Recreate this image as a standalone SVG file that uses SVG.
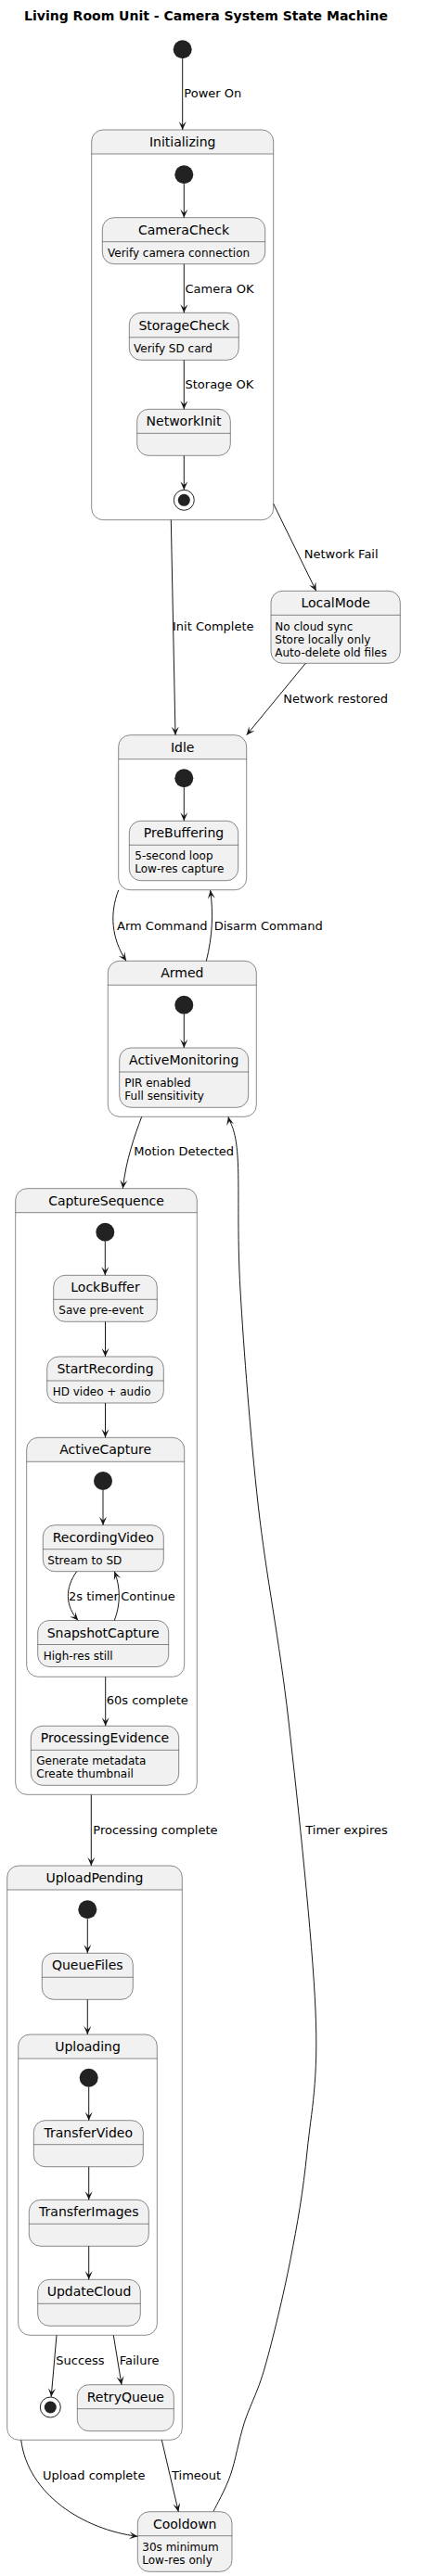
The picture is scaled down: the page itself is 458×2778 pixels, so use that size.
<svg xmlns="http://www.w3.org/2000/svg" width="458" height="2778" viewBox="0 0 458 2778">
<style>
.sf{fill:#F1F1F1;stroke:#181818;stroke-width:0.5}
.cb{fill:none;stroke:#181818;stroke-width:0.5}
.bg{fill:#FFFFFF;stroke:none}
.hd{fill:#F1F1F1;stroke:none}
.sep{stroke:#181818;stroke-width:0.5}
.nm{font-family:"DejaVu Sans",sans-serif;font-size:14px;fill:#000;text-anchor:middle}
.ds{font-family:"DejaVu Sans",sans-serif;font-size:12px;fill:#000}
.lb{font-family:"DejaVu Sans",sans-serif;font-size:13px;fill:#000}
.ar{fill:none;stroke:#181818;stroke-width:1;marker-end:url(#ah)}
.ini{fill:#222222}
.fo{fill:none;stroke:#222222;stroke-width:1}
.title{font-family:"DejaVu Sans",sans-serif;font-size:14px;font-weight:bold;fill:#000;text-anchor:middle}
</style>
<defs>
<marker id="ah" markerWidth="12" markerHeight="12" viewBox="-10 -6 12 12" refX="0" refY="0" orient="auto" markerUnits="userSpaceOnUse">
<path d="M0,0 L-9,-4 L-5,0 L-9,4 Z" fill="#181818"/>
</marker>
</defs>
<rect width="458" height="2778" fill="#FFFFFF"/>
<text class="title" x="222" y="22">Living Room Unit - Camera System State Machine</text>

<!-- composite states -->
<g id="Initializing">
<rect class="bg" x="98.7" y="140" width="196" height="420.7" rx="12.5"/>
<path class="hd" d="M98.7,166 V152.5 A12.5,12.5 0 0 1 111.2,140 H282.2 A12.5,12.5 0 0 1 294.7,152.5 V166 Z"/>
<rect class="cb" x="98.7" y="140" width="196" height="420.7" rx="12.5"/>
<line class="sep" x1="98.7" y1="166" x2="294.7" y2="166"/>
<text class="nm" x="196.7" y="158">Initializing</text>
<circle class="ini" cx="198.3" cy="188.3" r="10"/>
<circle class="fo" cx="198.3" cy="539.3" r="11"/>
<circle class="ini" cx="198.3" cy="539.3" r="6.5"/>
</g>
<g id="Idle">
<rect class="bg" x="127.7" y="792.7" width="138" height="167" rx="12.5"/>
<path class="hd" d="M127.7,818.7 V805.2 A12.5,12.5 0 0 1 140.2,792.7 H253.2 A12.5,12.5 0 0 1 265.7,805.2 V818.7 Z"/>
<rect class="cb" x="127.7" y="792.7" width="138" height="167" rx="12.5"/>
<line class="sep" x1="127.7" y1="818.7" x2="265.7" y2="818.7"/>
<text class="nm" x="196.7" y="810.7">Idle</text>
<circle class="ini" cx="198.3" cy="839.3" r="10"/>
</g>
<g id="Armed">
<rect class="bg" x="116.3" y="1036.3" width="160" height="168" rx="12.5"/>
<path class="hd" d="M116.3,1062.3 V1048.8 A12.5,12.5 0 0 1 128.8,1036.3 H263.8 A12.5,12.5 0 0 1 276.3,1048.8 V1062.3 Z"/>
<rect class="cb" x="116.3" y="1036.3" width="160" height="168" rx="12.5"/>
<line class="sep" x1="116.3" y1="1062.3" x2="276.3" y2="1062.3"/>
<text class="nm" x="196.3" y="1054.3">Armed</text>
<circle class="ini" cx="198.3" cy="1083.7" r="10"/>
</g>
<g id="CaptureSequence">
<rect class="bg" x="16.7" y="1281.7" width="195.6" height="653.6" rx="12.5"/>
<path class="hd" d="M16.7,1307.7 V1294.2 A12.5,12.5 0 0 1 29.2,1281.7 H199.8 A12.5,12.5 0 0 1 212.3,1294.2 V1307.7 Z"/>
<rect class="cb" x="16.7" y="1281.7" width="195.6" height="653.6" rx="12.5"/>
<line class="sep" x1="16.7" y1="1307.7" x2="212.3" y2="1307.7"/>
<text class="nm" x="114.5" y="1299.7">CaptureSequence</text>
<circle class="ini" cx="113.3" cy="1328.7" r="10"/>
</g>
<g id="ActiveCapture">
<rect class="bg" x="28.7" y="1550.3" width="170" height="258" rx="12.5"/>
<path class="hd" d="M28.7,1576.3 V1562.8 A12.5,12.5 0 0 1 41.2,1550.3 H186.2 A12.5,12.5 0 0 1 198.7,1562.8 V1576.3 Z"/>
<rect class="cb" x="28.7" y="1550.3" width="170" height="258" rx="12.5"/>
<line class="sep" x1="28.7" y1="1576.3" x2="198.7" y2="1576.3"/>
<text class="nm" x="113.7" y="1568.3">ActiveCapture</text>
<circle class="ini" cx="111" cy="1597" r="10"/>
</g>
<g id="UploadPending">
<rect class="bg" x="7.7" y="2012" width="188.6" height="619.3" rx="12.5"/>
<path class="hd" d="M7.7,2038 V2024.5 A12.5,12.5 0 0 1 20.2,2012 H183.8 A12.5,12.5 0 0 1 196.3,2024.5 V2038 Z"/>
<rect class="cb" x="7.7" y="2012" width="188.6" height="619.3" rx="12.5"/>
<line class="sep" x1="7.7" y1="2038" x2="196.3" y2="2038"/>
<text class="nm" x="102" y="2030">UploadPending</text>
<circle class="ini" cx="94.3" cy="2059.3" r="10"/>
<circle class="fo" cx="54.3" cy="2596" r="11"/>
<circle class="ini" cx="54.3" cy="2596" r="6.5"/>
</g>
<g id="Uploading">
<rect class="bg" x="19.7" y="2194" width="149.6" height="324.3" rx="12.5"/>
<path class="hd" d="M19.7,2220 V2206.5 A12.5,12.5 0 0 1 32.2,2194 H156.8 A12.5,12.5 0 0 1 169.3,2206.5 V2220 Z"/>
<rect class="cb" x="19.7" y="2194" width="149.6" height="324.3" rx="12.5"/>
<line class="sep" x1="19.7" y1="2220" x2="169.3" y2="2220"/>
<text class="nm" x="94.5" y="2212">Uploading</text>
<circle class="ini" cx="95.7" cy="2240.7" r="10"/>
</g>

<!-- start -->
<g id="Start"><circle class="ini" cx="196.7" cy="53.3" r="10"/></g>

<!-- simple states -->
<g id="CameraCheck">
<rect class="sf" x="110.3" y="234.7" width="175.4" height="50" rx="12.5"/>
<line class="sep" x1="110.3" y1="260.7" x2="285.7" y2="260.7"/>
<text class="nm" x="198" y="252.7">CameraCheck</text>
<text class="ds" x="116" y="276.7">Verify camera connection</text>
</g>
<g id="StorageCheck">
<rect class="sf" x="139.3" y="337.3" width="118" height="51" rx="12.5"/>
<line class="sep" x1="139.3" y1="363.8" x2="257.3" y2="363.8"/>
<text class="nm" x="198.3" y="355.5">StorageCheck</text>
<text class="ds" x="144" y="379.7">Verify SD card</text>
</g>
<g id="NetworkInit">
<rect class="sf" x="147.7" y="441.3" width="100.6" height="50" rx="12.5"/>
<line class="sep" x1="147.7" y1="467.3" x2="248.3" y2="467.3"/>
<text class="nm" x="198" y="459.3">NetworkInit</text>
</g>
<g id="LocalMode">
<rect class="sf" x="292" y="637.3" width="139.3" height="78" rx="12.5"/>
<line class="sep" x1="292" y1="663.3" x2="431.3" y2="663.3"/>
<text class="nm" x="361.7" y="655.3">LocalMode</text>
<text class="ds" x="296.3" y="679.5">No cloud sync</text>
<text class="ds" x="296.3" y="693.5">Store locally only</text>
<text class="ds" x="296.3" y="707.5">Auto-delete old files</text>
</g>
<g id="PreBuffering">
<rect class="sf" x="139.3" y="885.3" width="117.4" height="64.4" rx="12.5"/>
<line class="sep" x1="139.3" y1="911.3" x2="256.7" y2="911.3"/>
<text class="nm" x="198" y="903.3">PreBuffering</text>
<text class="ds" x="145.3" y="927.3">5-second loop</text>
<text class="ds" x="145.3" y="941.3">Low-res capture</text>
</g>
<g id="ActiveMonitoring">
<rect class="sf" x="128.7" y="1130" width="139" height="64.3" rx="12.5"/>
<line class="sep" x1="128.7" y1="1156" x2="267.7" y2="1156"/>
<text class="nm" x="198.2" y="1148">ActiveMonitoring</text>
<text class="ds" x="134.3" y="1172.2">PIR enabled</text>
<text class="ds" x="134.3" y="1186.2">Full sensitivity</text>
</g>
<g id="LockBuffer">
<rect class="sf" x="57.7" y="1375.3" width="111.6" height="50" rx="12.5"/>
<line class="sep" x1="57.7" y1="1401.3" x2="169.3" y2="1401.3"/>
<text class="nm" x="113.5" y="1393.3">LockBuffer</text>
<text class="ds" x="63.3" y="1417.3">Save pre-event</text>
</g>
<g id="StartRecording">
<rect class="sf" x="50.7" y="1463" width="125.6" height="50" rx="12.5"/>
<line class="sep" x1="50.7" y1="1489" x2="176.3" y2="1489"/>
<text class="nm" x="113.5" y="1481">StartRecording</text>
<text class="ds" x="56.7" y="1505">HD video + audio</text>
</g>
<g id="RecordingVideo">
<rect class="sf" x="46.3" y="1644.7" width="130" height="50" rx="12.5"/>
<line class="sep" x1="46.3" y1="1670.7" x2="176.3" y2="1670.7"/>
<text class="nm" x="111.3" y="1662.7">RecordingVideo</text>
<text class="ds" x="51.3" y="1686.7">Stream to SD</text>
</g>
<g id="SnapshotCapture">
<rect class="sf" x="40.7" y="1747.5" width="141" height="50" rx="12.5"/>
<line class="sep" x1="40.7" y1="1773.5" x2="181.7" y2="1773.5"/>
<text class="nm" x="111.2" y="1765.5">SnapshotCapture</text>
<text class="ds" x="46.7" y="1789.5">High-res still</text>
</g>
<g id="ProcessingEvidence">
<rect class="sf" x="33.3" y="1861.3" width="159.4" height="64" rx="12.5"/>
<line class="sep" x1="33.3" y1="1887.3" x2="192.7" y2="1887.3"/>
<text class="nm" x="113" y="1879.3">ProcessingEvidence</text>
<text class="ds" x="39.3" y="1903.3">Generate metadata</text>
<text class="ds" x="39.3" y="1917.3">Create thumbnail</text>
</g>
<g id="QueueFiles">
<rect class="sf" x="45.3" y="2106.3" width="98" height="50" rx="12.5"/>
<line class="sep" x1="45.3" y1="2132.3" x2="143.3" y2="2132.3"/>
<text class="nm" x="94.3" y="2124.3">QueueFiles</text>
</g>
<g id="TransferVideo">
<rect class="sf" x="36.3" y="2286.7" width="118" height="50" rx="12.5"/>
<line class="sep" x1="36.3" y1="2312.7" x2="154.3" y2="2312.7"/>
<text class="nm" x="95.3" y="2304.7">TransferVideo</text>
</g>
<g id="TransferImages">
<rect class="sf" x="31.3" y="2372.3" width="129" height="50" rx="12.5"/>
<line class="sep" x1="31.3" y1="2398.3" x2="160.3" y2="2398.3"/>
<text class="nm" x="95.8" y="2390.3">TransferImages</text>
</g>
<g id="UpdateCloud">
<rect class="sf" x="40.7" y="2458.3" width="110.6" height="50" rx="12.5"/>
<line class="sep" x1="40.7" y1="2484.3" x2="151.3" y2="2484.3"/>
<text class="nm" x="96" y="2476.3">UpdateCloud</text>
</g>
<g id="RetryQueue">
<rect class="sf" x="83.3" y="2571.7" width="104" height="50" rx="12.5"/>
<line class="sep" x1="83.3" y1="2597.7" x2="187.3" y2="2597.7"/>
<text class="nm" x="135.3" y="2589.7">RetryQueue</text>
</g>
<g id="Cooldown">
<rect class="sf" x="148.3" y="2708.7" width="101.7" height="64.6" rx="12.5"/>
<line class="sep" x1="148.3" y1="2734.7" x2="250" y2="2734.7"/>
<text class="nm" x="199.2" y="2726.7">Cooldown</text>
<text class="ds" x="153.3" y="2750.7">30s minimum</text>
<text class="ds" x="153.3" y="2764.7">Low-res only</text>
</g>

<!-- connectors -->
<g id="connectors">
<path class="ar" d="M196.7,63.3 L196.7,140"/>
<text class="lb" x="198.3" y="105">Power On</text>
<path class="ar" d="M198.3,198.3 L198.3,234.7"/>
<path class="ar" d="M198.3,284.7 L198.3,337.3"/>
<text class="lb" x="199.5" y="315.5">Camera OK</text>
<path class="ar" d="M198.3,388.3 L198.3,441.3"/>
<text class="lb" x="199.5" y="418.7">Storage OK</text>
<path class="ar" d="M198.3,491.3 L198.3,528.3"/>
<path class="ar" d="M184.3,560.7 L189,792.7"/>
<text class="lb" x="186" y="680">Init Complete</text>
<path class="ar" d="M294.7,543.3 L340.7,637.3"/>
<text class="lb" x="327.7" y="602.3">Network Fail</text>
<path class="ar" d="M329.3,715.3 L265.7,792.7"/>
<text class="lb" x="305.3" y="758">Network restored</text>
<path class="ar" d="M198.3,849.3 L198.3,885.3"/>
<path class="ar" d="M127.7,960 C118,985 120,1012 136,1036.3"/>
<text class="lb" x="126" y="1003">Arm Command</text>
<path class="ar" d="M222.3,1036.3 C229,1010 230,985 226.7,960"/>
<text class="lb" x="230.7" y="1003">Disarm Command</text>
<path class="ar" d="M198.3,1093.7 L198.3,1130"/>
<path class="ar" d="M152.7,1204.3 C145,1225 136,1250 132.3,1281.7"/>
<text class="lb" x="144.3" y="1246">Motion Detected</text>
<path class="ar" d="M230,2708.3 C233.05,2701.8 242.75,2685.2 248.3,2669.3 C253.85,2653.4 257.07,2632.25 263.3,2612.7 C269.53,2593.15 277.42,2581.33 285.7,2552 C293.98,2522.67 305.45,2475.37 313,2436.7 C320.55,2398.03 326.5,2364.78 331,2320 C335.5,2275.22 343.33,2245.33 340,2168 C336.67,2090.67 321.28,1946.67 311,1856 C300.72,1765.33 286.97,1701.33 278.3,1624 C269.63,1546.67 262.72,1454.88 259,1392 C255.28,1329.12 258.17,1277.98 256,1246.7 C253.83,1215.42 247.67,1211.37 246,1204.3"/>
<text class="lb" x="329.3" y="1977.7">Timer expires</text>
<path class="ar" d="M113.3,1338.7 L113.3,1375.3"/>
<path class="ar" d="M113.5,1425.3 L113.5,1463"/>
<path class="ar" d="M113.5,1513 L113.5,1550.3"/>
<path class="ar" d="M111,1607 L111,1644.7"/>
<path class="ar" d="M82.7,1694.7 C70,1712 70,1732 84.3,1747.5"/>
<text class="lb" x="74" y="1725.7">2s timer</text>
<path class="ar" d="M123.3,1747.5 C130,1730 130,1712 123.3,1694.7"/>
<text class="lb" x="130.3" y="1725.7">Continue</text>
<path class="ar" d="M113.7,1808.3 L113.7,1861.3"/>
<text class="lb" x="114.7" y="1838">60s complete</text>
<path class="ar" d="M98.3,1935.3 L98.3,2012"/>
<text class="lb" x="100.3" y="1977.7">Processing complete</text>
<path class="ar" d="M94.3,2069.3 L94.3,2106.3"/>
<path class="ar" d="M94.3,2156.3 L94.3,2194"/>
<path class="ar" d="M95.7,2250.7 L95.7,2286.7"/>
<path class="ar" d="M95.7,2336.7 L95.7,2372.3"/>
<path class="ar" d="M95.7,2422.3 L95.7,2458.3"/>
<path class="ar" d="M61,2518.3 L55.2,2584.7"/>
<text class="lb" x="60.3" y="2550">Success</text>
<path class="ar" d="M122.3,2518.3 L131,2571.7"/>
<text class="lb" x="128.7" y="2550">Failure</text>
<path class="ar" d="M22.7,2631.3 C30,2690 90,2728 148.3,2735.3"/>
<text class="lb" x="46" y="2674.3">Upload complete</text>
<path class="ar" d="M174.3,2631.3 L192.3,2708.7"/>
<text class="lb" x="185" y="2674.3">Timeout</text>
</g>
</svg>
